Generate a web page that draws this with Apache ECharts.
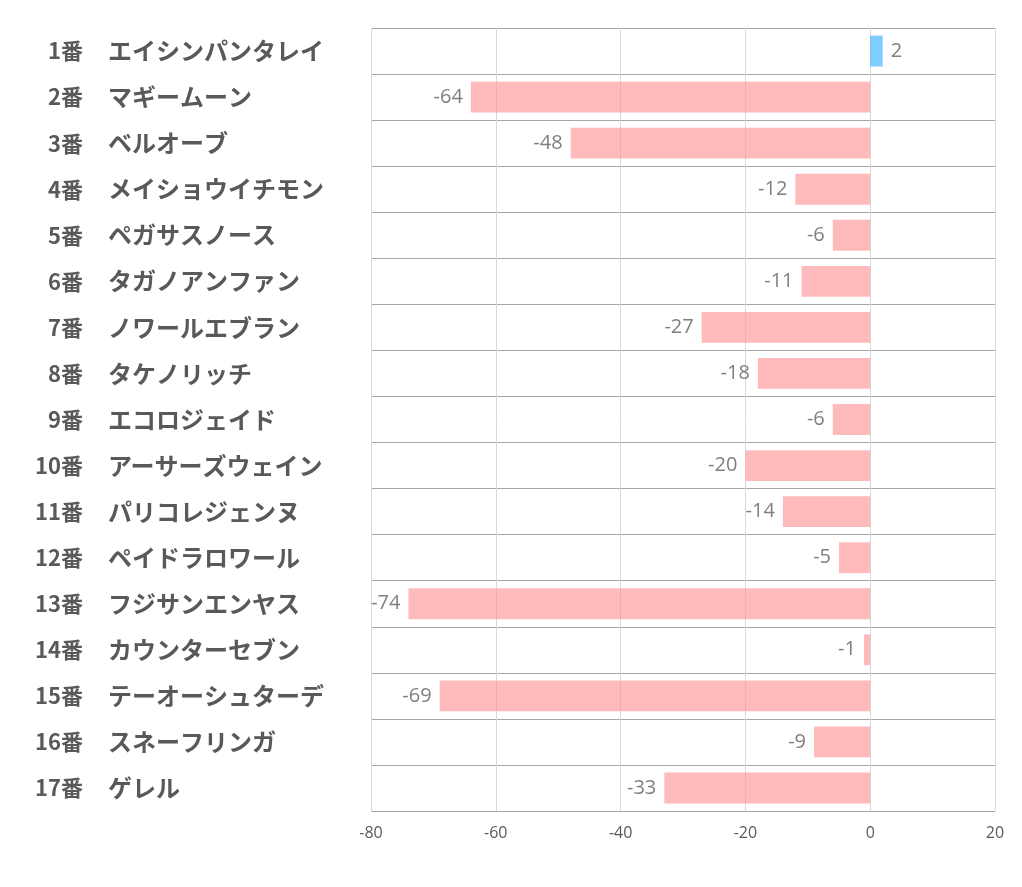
<!DOCTYPE html>
<html><head><meta charset="utf-8">
<script src="https://cdn.jsdelivr.net/npm/echarts@6/dist/echarts.min.js"></script>
<style>html,body{margin:0;padding:0;background:#fff}#c{width:1022px;height:887px}</style>
</head><body><div id="c"></div>
<script>
const numbers = ['1番','2番','3番','4番','5番','6番','7番','8番','9番','10番','11番','12番','13番','14番','15番','16番','17番'];
const names = ['エイシンパンタレイ','マギームーン','ベルオーブ','メイショウイチモン','ペガサスノース','タガノアンファン','ノワールエブラン','タケノリッチ','エコロジェイド','アーサーズウェイン','パリコレジェンヌ','ペイドラロワール','フジサンエンヤス','カウンターセブン','テーオーシュターデ','スネーフリンガ','ゲレル'];
const values = [2,-64,-48,-12,-6,-11,-27,-18,-6,-20,-14,-5,-74,-1,-69,-9,-33];
const xTicks = {min:-80, max:20, interval:20};

const chart = echarts.init(document.getElementById('c'));
const labelFont = {fontWeight:'bold', color:'#595959', fontFamily:'Noto Sans CJK JP', padding:[0,0,4,0]};
chart.setOption({
  animation:false,
  grid:{left:371, right:27, top:28, bottom:76, containLabel:false},
  xAxis:{type:'value', min:xTicks.min, max:xTicks.max, interval:xTicks.interval,
    axisLine:{show:false}, axisTick:{show:false},
    splitLine:{show:true, lineStyle:{color:'#d9d9d9', width:1}},
    axisLabel:{color:'#595959', fontSize:16, fontFamily:'Liberation Sans Narrow, Open Sans, sans-serif', margin:14}
  },
  yAxis:[
    {type:'category', inverse:true, data:numbers, position:'left',
      axisLine:{show:true, onZero:false, lineStyle:{color:'#d9d9d9'}}, axisTick:{show:false},
      splitLine:{show:true, lineStyle:{color:'#a6a6a6', width:1}},
      axisLabel:Object.assign({margin:288, interval:0, align:'right', fontSize:22}, labelFont)
    },
    {type:'category', inverse:true, data:names, position:'left', offset:0,
      axisLine:{show:false}, axisTick:{show:false}, splitLine:{show:false},
      axisLabel:Object.assign({margin:263, interval:0, align:'left', fontSize:24}, labelFont)
    }
  ],
  series:[{type:'bar', barWidth:'67%', yAxisIndex:0,
    data:values.map(v=>({value:v,
      itemStyle:{color: v>=0 ? 'rgba(0,153,255,0.5)' : 'rgba(255,150,150,0.65)'},
      label:{position: v>=0 ? 'right' : 'left'}})),
    label:{show:true, distance:8, color:'#7f7f7f', fontSize:20, fontFamily:'Open Sans, sans-serif'}
  }]
});
</script></body></html>
